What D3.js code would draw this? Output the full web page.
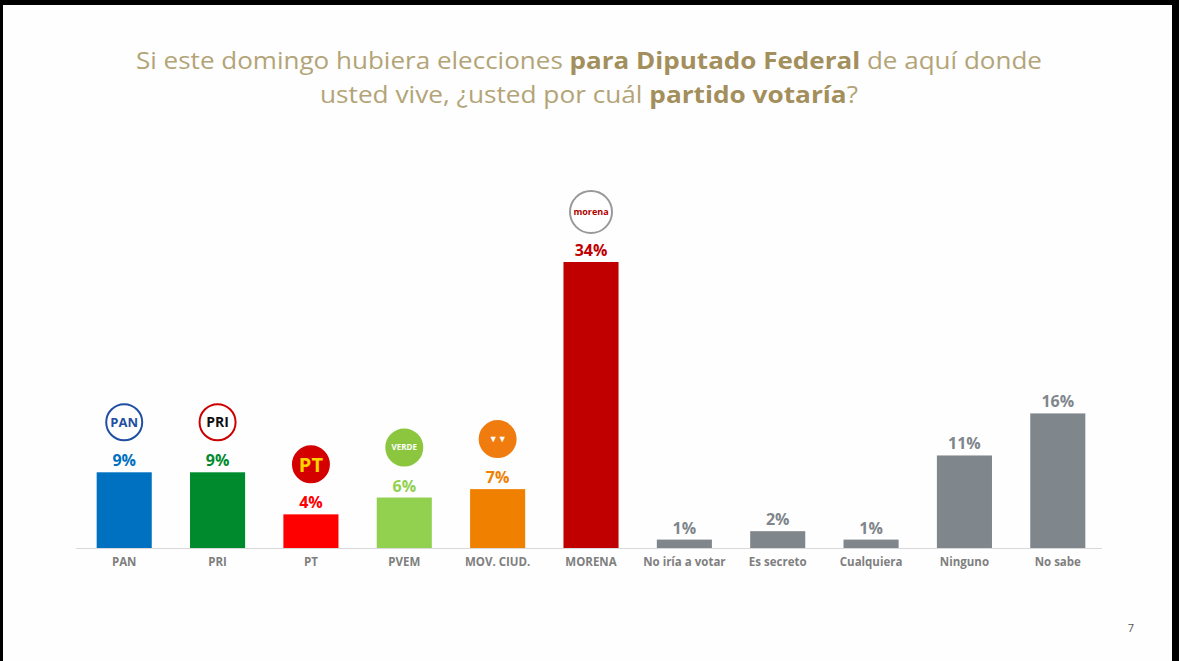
<!DOCTYPE html>
<html><head><meta charset="utf-8">
<script src="https://cdn.jsdelivr.net/npm/d3@7"></script>
<style>body{margin:0;background:#000;}svg{display:block}</style>
</head><body>
<script>
const categories = ["PAN","PRI","PT","PVEM","MOV. CIUD.","MORENA","No iría a votar","Es secreto","Cualquiera","Ninguno","No sabe"];
const values = [9,9,4,6,7,34,1,2,1,11,16];
const barColors = ["#0070c0","#008a2e","#ff0000","#92d050","#f08000","#c00000","#7f868c","#7f868c","#7f868c","#7f868c","#7f868c"];
const labelColors = ["#0070c0","#008a2e","#ff0000","#92d050","#f08000","#c00000","#7f868c","#7f868c","#7f868c","#7f868c","#7f868c"];
const logos = [
 {t:"PAN",bg:"#fff",fg:"#1f4ea3",ring:"#1f4ea3"},
 {t:"PRI",bg:"#fff",fg:"#111",ring:"#c00"},
 {t:"PT",bg:"#d40000",fg:"#ffd200",ring:"#d40000"},
 {t:"VERDE",bg:"#8cc63f",fg:"#fff",ring:"#8cc63f"},
 {t:"MC",bg:"#f07c10",fg:"#fff",ring:"#f07c10"},
 {t:"morena",bg:"#fff",fg:"#b00000",ring:"#999"},
 null,null,null,null,null];

const W=1179,H=661;
const svg=d3.select("body").append("svg").attr("width",W).attr("height",H);
svg.append("rect").attr("x",3).attr("y",5).attr("width",1169).attr("height",H-5).attr("fill","#fefefe");

const title=svg.append("text").attr("text-anchor","middle").attr("font-family","Open Sans").attr("font-size",24).attr("fill","#b3a478");
const l1=title.append("tspan").attr("x",589).attr("y",69).attr("textLength",906).attr("lengthAdjust","spacingAndGlyphs");
l1.append("tspan").text("Si este domingo hubiera elecciones ");
l1.append("tspan").attr("font-weight","bold").attr("fill","#a38f5c").text("para Diputado Federal");
l1.append("tspan").text(" de aquí donde");
const l2=title.append("tspan").attr("x",589).attr("y",103).attr("textLength",538).attr("lengthAdjust","spacingAndGlyphs");
l2.append("tspan").text("usted vive, ¿usted por cuál ");
l2.append("tspan").attr("font-weight","bold").attr("fill","#a38f5c").text("partido votaría");
l2.append("tspan").text("?");

const x=d3.scaleBand().domain(categories).range([78,1104]).paddingInner(0.41).paddingOuter(0.2);
const y=d3.scaleLinear().domain([0,34]).range([548,262]);

svg.append("line").attr("x1",76).attr("x2",1102).attr("y1",548.5).attr("y2",548.5).attr("stroke","#d9d9d9");
const axis=svg.append("g").attr("transform","translate(0,548)").call(d3.axisBottom(x).tickSize(0).tickPadding(10));
axis.select(".domain").remove();
axis.selectAll("text").attr("font-family","Open Sans").attr("font-size",11.5).attr("font-weight","bold").attr("fill","#7f7f7f");

const g=svg.selectAll(".bar").data(categories).enter().append("g");
g.append("rect").attr("x",d=>x(d)).attr("width",x.bandwidth()).attr("y",(d,i)=>y(values[i])).attr("height",(d,i)=>548-y(values[i])).attr("fill",(d,i)=>barColors[i]);
g.append("text").attr("x",d=>x(d)+x.bandwidth()/2).attr("y",(d,i)=>y(values[i])-6).attr("text-anchor","middle")
 .attr("font-family","Open Sans").attr("font-weight","bold").attr("font-size",16).attr("fill",(d,i)=>labelColors[i]).text((d,i)=>values[i]+"%");

g.each(function(d,i){
  const L=logos[i]; if(!L) return;
  const cx=x(d)+x.bandwidth()/2, cy=y(values[i])-50, r=L.t==="morena"?21:18;
  const s=d3.select(this);
  s.append("circle").attr("cx",cx).attr("cy",cy).attr("r",r).attr("fill",L.bg).attr("stroke",L.ring).attr("stroke-width",2);
  const fs={PAN:13,PRI:14,PT:20,VERDE:8,MC:9,morena:9}[L.t];
  s.append("text").attr("x",cx).attr("y",cy+fs*0.36).attr("text-anchor","middle").attr("font-family","Open Sans").attr("font-weight","bold")
   .attr("font-size",fs).attr("fill",L.fg).text(L.t==="MC"?"▼▼":L.t);
});

svg.append("text").attr("x",1131).attr("y",632).attr("text-anchor","middle").attr("font-family","Open Sans").attr("font-size",11).attr("fill","#555").text("7");
</script>
</body></html>
